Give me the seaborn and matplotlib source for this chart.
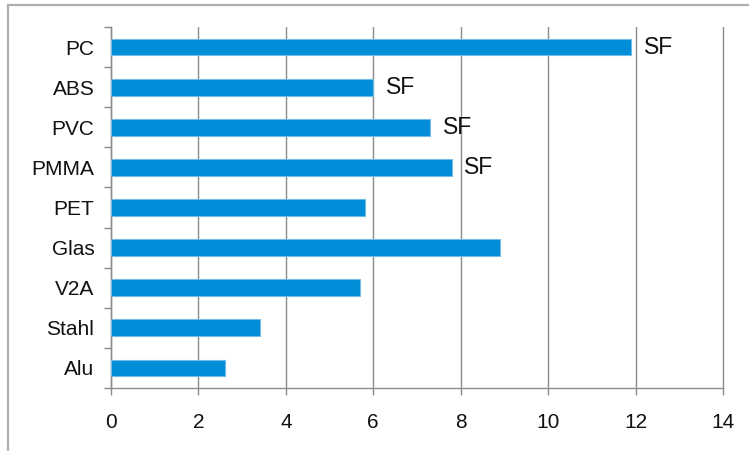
import matplotlib
matplotlib.use("Agg")
import matplotlib.pyplot as plt
import seaborn as sns
import pandas as pd
from matplotlib.patches import Rectangle

categories = ["PC", "ABS", "PVC", "PMMA", "PET", "Glas", "V2A", "Stahl", "Alu"]
values = [11.9, 6.0, 7.3, 7.8, 5.8, 8.9, 5.7, 3.4, 2.6]
bar_labels = ["SF", "SF", "SF", "SF", "", "", "", "", ""]
x_ticks = [0, 2, 4, 6, 8, 10, 12, 14]

sns.set_theme(style="white")
plt.rcParams["font.family"] = ["Liberation Sans", "DejaVu Sans"]

df = pd.DataFrame({"Material": categories, "Wert": values})

fig = plt.figure(figsize=(7.49, 4.51), dpi=100)
ax = fig.add_axes([111 / 749, 1 - 388 / 451, (723 - 111) / 749, (388 - 27) / 451])

sns.barplot(data=df, y="Material", x="Wert", orient="h", color="#008CD6",
            saturation=1, width=0.42, edgecolor="#6FBDEA", linewidth=0.8,
            ax=ax, zorder=3)

ax.set_xlim(0, 14)
ax.set_ylim(len(categories) - 0.5, -0.5)
ax.set_xticks(x_ticks)
ax.set_xticklabels([str(t) for t in x_ticks])
ax.set_xlabel("")
ax.set_ylabel("")

# vertical gridlines
ax.grid(axis="x", color="#8C8C8C", linewidth=1.0, zorder=0)
ax.grid(axis="y", visible=False)
for gl in ax.get_xgridlines():
    gl.set_clip_on(False)

for side in ["top", "right"]:
    ax.spines[side].set_visible(False)
for side in ["left", "bottom"]:
    ax.spines[side].set_color("#8C8C8C")
    ax.spines[side].set_linewidth(1.0)

ax.tick_params(axis="x", which="major", length=5, width=1.0, color="#8C8C8C",
               direction="out", pad=13, labelsize=15, labelcolor="#111111", bottom=True)
ax.tick_params(axis="y", which="major", length=0, pad=12, labelsize=15,
               labelcolor="#111111", left=True)
ax.set_yticks([i - 0.5 for i in range(len(categories) + 1)], minor=True)
ax.tick_params(axis="y", which="minor", length=5, width=1.0, color="#8C8C8C",
               direction="out", left=True)

for i, (v, lab) in enumerate(zip(values, bar_labels)):
    if lab:
        ax.annotate(lab, xy=(v, i), xytext=(9, 0), textcoords="offset points",
                    va="center", ha="left", fontsize=16.5, color="#111111")

# outer chart border
fig.patches.append(Rectangle((8 / 749, -0.05), 1.1, 1 - 5 / 451 + 0.05,
                             transform=fig.transFigure, fill=False,
                             edgecolor="#AFAFAF", linewidth=1.6))

fig.savefig("out.png", dpi=100)
